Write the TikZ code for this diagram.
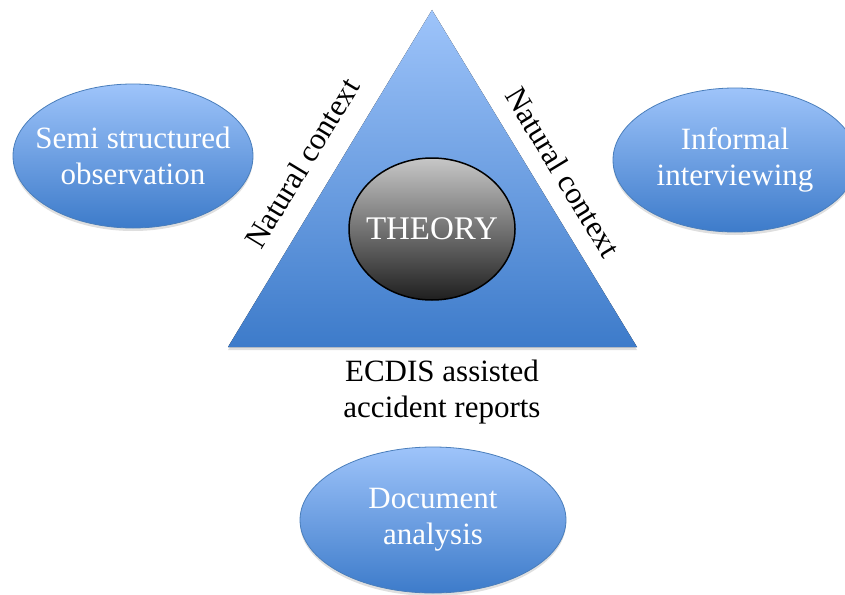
\documentclass[tikz,border=0pt]{standalone}
\usepackage{fontspec}
\setmainfont{Liberation Serif}
\usetikzlibrary{shapes.geometric,shadows}
\definecolor{ltblue}{HTML}{9EC4FA}
\definecolor{dkblue}{HTML}{3D7BCA}
\definecolor{edgeblue}{HTML}{4A7EBB}
\tikzset{
  bigtext/.style={font=\fontsize{31}{36}\selectfont, align=center},
  method/.style={ellipse, draw=edgeblue, line width=0.8pt, top color=ltblue, bottom color=dkblue,
    text=white, bigtext, inner xsep=-60pt, inner ysep=-30pt,
    drop shadow={opacity=0.25, shadow xshift=0pt, shadow yshift=-3pt}},
  theory/.style={ellipse, draw=black, line width=1.5pt, top color=black!22, bottom color=black!88,
    text=white, font=\fontsize{33}{36}\selectfont, inner xsep=-40pt, inner ysep=-20pt},
  edgelabel/.style={bigtext, inner sep=0pt}
}
\begin{document}
\begin{tikzpicture}[x=1pt, y=-1pt]
\useasboundingbox (0,0) rectangle (845,594);
\clip (0,0) rectangle (845,594);
\coordinate (apex) at (432,10);
\coordinate (bl) at (228,347);
\coordinate (br) at (637,347);
\fill[top color=ltblue, bottom color=dkblue,
  drop shadow={opacity=0.25, shadow xshift=0pt, shadow yshift=-3pt}] (apex) -- (bl) -- (br) -- cycle;
\node[theory, minimum width=166pt, minimum height=142pt] (theory) at (432,229) {THEORY};
\node[method, minimum width=240pt, minimum height=144pt] (semi) at (133,156) {Semi structured\\observation};
\node[method, minimum width=244pt, minimum height=144pt] (inf) at (735,160) {Informal\\interviewing};
\node[method, minimum width=266pt, minimum height=146pt] (doc) at (433,520) {Document\\analysis};
\node[edgelabel, rotate=58.8] (nl) at (302,163) {Natural context};
\node[edgelabel, rotate=-58.8] (nr) at (563,172) {Natural context};
\node[edgelabel] (ecdis) at (442,392) {ECDIS assisted\\accident reports};
\end{tikzpicture}
\end{document}
